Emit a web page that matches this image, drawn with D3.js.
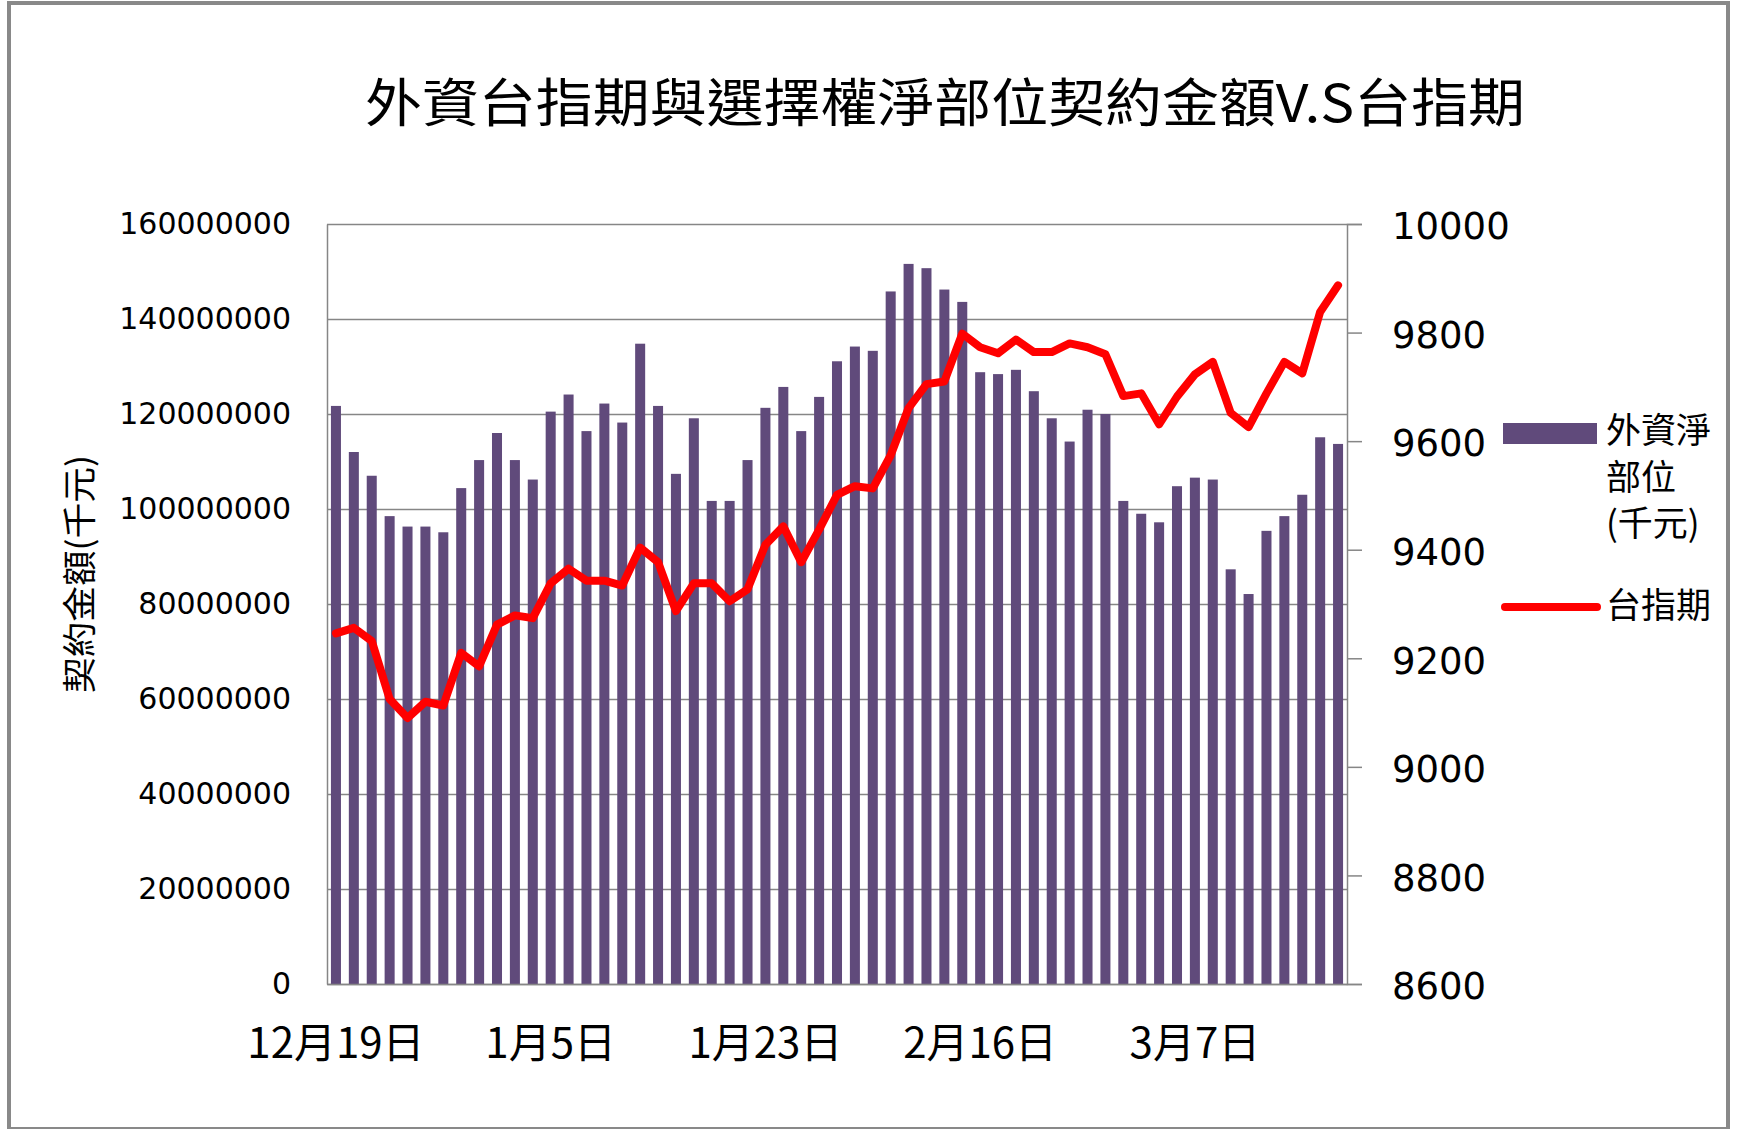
<!DOCTYPE html>
<html lang="zh-Hant">
<head>
<meta charset="UTF-8">
<script src="https://d3js.org/d3.v7.min.js"></script>
<title>外資台指期與選擇權淨部位契約金額V.S台指期</title>
<style>
  body { margin: 0; background: #fff; }
  svg text { fill: #000; }
</style>
</head>
<body>
<svg id="svg1" width="1737" height="1129"></svg>
<script>

// trading days, Dec 19 -> Mar 17
const dates = [
  "12月19日","12月20日","12月21日","12月22日","12月23日",
  "12月26日","12月27日","12月28日","12月29日","12月30日",
  "1月3日","1月4日","1月5日","1月6日",
  "1月9日","1月10日","1月11日","1月12日","1月13日",
  "1月16日","1月17日","1月18日","1月19日","1月20日",
  "1月23日","1月24日",
  "2月2日","2月3日",
  "2月6日","2月7日","2月8日","2月9日","2月10日",
  "2月13日","2月14日","2月15日","2月16日","2月17日",
  "2月20日","2月21日","2月22日","2月23日","2月24日",
  "2月27日","3月1日","3月2日","3月3日",
  "3月6日","3月7日","3月8日","3月9日","3月10日",
  "3月13日","3月14日","3月15日","3月16日","3月17日"
]

// 外資淨部位 (千元), in millions
const netPosition = [
  121.7, 112.0, 107.0, 98.5, 96.3, 96.3, 95.1, 104.4, 110.3, 116.0,
  110.3, 106.2, 120.5, 124.1, 116.4, 122.2, 118.2, 134.8, 121.7, 107.4,
  119.1, 101.7, 101.7, 110.3, 121.3, 125.7, 116.4, 123.6, 131.1, 134.2,
  133.3, 145.8, 151.6, 150.7, 146.2, 143.6, 128.8, 128.4, 129.3, 124.8,
  119.1, 114.2, 120.9, 120.0, 101.7, 99.0, 97.2, 104.8, 106.6, 106.2,
  87.3, 82.1, 95.4, 98.5, 103.0, 115.1, 113.7
].map(v => v * 1e6)

// 台指期
const taiex = [
  9246, 9256, 9232, 9125, 9090, 9120, 9113, 9210, 9185, 9262,
  9279, 9274, 9338, 9365, 9343, 9343, 9334, 9404, 9377, 9287,
  9338, 9338, 9305, 9327, 9409, 9443, 9377, 9437, 9501, 9517,
  9513, 9574, 9661, 9705, 9710, 9798, 9773, 9762, 9787, 9764,
  9764, 9780, 9773, 9760, 9683, 9688, 9631, 9682, 9723, 9746,
  9652, 9626, 9688, 9746, 9725, 9838, 9887
]

const leftTicks = [0, 20000000, 40000000, 60000000, 80000000, 100000000, 120000000, 140000000, 160000000]
const rightTicks = [8600, 8800, 9000, 9200, 9400, 9600, 9800, 10000]
const xLabels = ["12月19日", "1月5日", "1月23日", "2月16日", "3月7日"]

const plotLeft = 327, plotRight = 1347, plotTop = 224, plotBottom = 984
const cjk = "'Noto Sans CJK TC', 'Noto Sans CJK SC', sans-serif"
const gridColor = "#868686"

let svg = d3.select("#svg1")

// chart frame
svg.append("rect")
    .attr("x", 9).attr("y", 3)
    .attr("width", 1719).attr("height", 1126)
    .attr("fill", "#fff")
    .attr("stroke", "#898989").attr("stroke-width", 4)

let x = d3.scaleBand().domain(dates).range([plotLeft, plotRight]).paddingInner(0.44).paddingOuter(0.22)
let yL = d3.scaleLinear().domain([0, 160000000]).range([plotBottom, plotTop])
let yR = d3.scaleLinear().domain([8600, 10000]).range([plotBottom, plotTop])

// gridlines
let grid = svg.append("g")
    .attr("transform", `translate(${plotLeft},0)`)
    .call(d3.axisLeft(yL).tickValues(leftTicks).tickSize(-(plotRight - plotLeft)).tickFormat(""))
grid.select(".domain").remove()
grid.selectAll("line").attr("stroke", gridColor).attr("stroke-width", 1.5)

// bars
svg.append("g")
    .selectAll("rect")
    .data(netPosition)
    .enter()
    .append("rect")
    .attr("x", (d, i) => x(dates[i]))
    .attr("y", d => yL(d))
    .attr("width", x.bandwidth())
    .attr("height", d => yL(0) - yL(d))
    .attr("fill", "#604a7b")

// left axis
let axL = svg.append("g")
    .attr("transform", `translate(${plotLeft},0)`)
    .call(d3.axisLeft(yL).tickValues(leftTicks).tickSize(0).tickPadding(36).tickFormat(d3.format("d")))
axL.select(".domain").attr("stroke", gridColor).attr("stroke-width", 1.5)
axL.selectAll("text")
    .style("font-family", "'DejaVu Sans', sans-serif")
    .style("font-size", "30px")
    .attr("fill", "#000")

// right axis
let axR = svg.append("g")
    .attr("transform", `translate(${plotRight},0)`)
    .call(d3.axisRight(yR).tickValues(rightTicks).tickSize(15).tickPadding(30).tickFormat(d3.format("d")))
axR.select(".domain").attr("stroke", gridColor).attr("stroke-width", 1.5)
axR.selectAll("line").attr("stroke", gridColor).attr("stroke-width", 1.5)
axR.selectAll("text")
    .style("font-family", "'DejaVu Sans', sans-serif")
    .style("font-size", "37px")
    .attr("dy", "0.4em")
    .attr("fill", "#000")

// bottom axis
let axB = svg.append("g")
    .attr("transform", `translate(0,${plotBottom})`)
    .call(d3.axisBottom(x).tickValues(xLabels).tickSize(0).tickPadding(44))
axB.select(".domain").attr("stroke", gridColor).attr("stroke-width", 1.5)
axB.selectAll("text")
    .style("font-family", cjk)
    .style("font-size", "42px")
    .attr("fill", "#000")

// index line
let line = d3.line()
    .x((d, i) => x(dates[i]) + x.bandwidth() / 2)
    .y(d => yR(d))

svg.append("path")
    .datum(taiex)
    .attr("d", line)
    .attr("fill", "none")
    .attr("stroke", "#ff0000")
    .attr("stroke-width", 8)
    .attr("stroke-linejoin", "round")
    .attr("stroke-linecap", "round")

// title
svg.append("text")
    .attr("x", 945).attr("y", 99)
    .attr("text-anchor", "middle")
    .attr("dominant-baseline", "central")
    .attr("textLength", 1160)
    .attr("lengthAdjust", "spacingAndGlyphs")
    .style("font-family", cjk)
    .style("font-size", "52px")
    .text("外資台指期與選擇權淨部位契約金額V.S台指期")

// y axis title
svg.append("text")
    .attr("transform", "translate(77,574) rotate(-90)")
    .attr("text-anchor", "middle")
    .attr("dominant-baseline", "central")
    .attr("textLength", 238)
    .attr("lengthAdjust", "spacingAndGlyphs")
    .style("font-family", cjk)
    .style("font-size", "34px")
    .text("契約金額(千元)")

// legend
let legend = svg.append("g").style("font-family", cjk).style("font-size", "35px")
legend.append("rect")
    .attr("x", 1503).attr("y", 423).attr("width", 94).attr("height", 21)
    .attr("fill", "#604a7b")
let barLabel = ["外資淨", "部位", "(千元)"]
legend.append("text")
    .attr("fill", "#222")
    .selectAll("tspan")
    .data(barLabel)
    .enter()
    .append("tspan")
    .attr("x", 1606)
    .attr("y", (d, i) => 443 + i * 46.5)
    .text(d => d)
legend.append("line")
    .attr("x1", 1505).attr("x2", 1597).attr("y1", 607).attr("y2", 607)
    .attr("stroke", "#ff0000").attr("stroke-width", 8).attr("stroke-linecap", "round")
legend.append("text")
    .attr("x", 1606).attr("y", 618)
    .attr("fill", "#222")
    .text("台指期")

</script>
</body>
</html>
